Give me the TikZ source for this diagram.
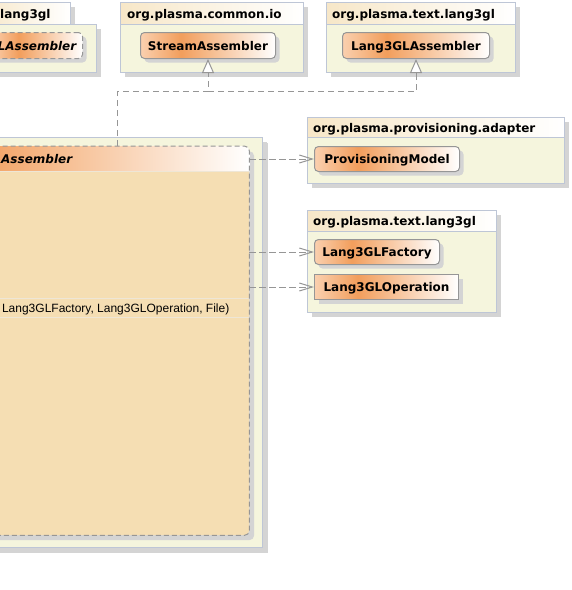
\documentclass[tikz,border=0pt]{standalone}
\usepackage{fontspec}
\newfontfamily\dv{DejaVu Sans}
\newfontfamily\ar{Liberation Sans}
\usetikzlibrary{arrows.meta,shadows}
\definecolor{pkgfill}{RGB}{245,245,221}
\definecolor{pkgline}{RGB}{190,198,214}
\definecolor{shd}{RGB}{212,212,212}
\definecolor{tabL}{RGB}{247,231,200}
\definecolor{clsL}{RGB}{250,208,175}
\definecolor{clsM}{RGB}{242,158,92}
\definecolor{clsline}{RGB}{150,150,150}
\definecolor{wheatc}{RGB}{245,222,179}
\definecolor{sepc}{RGB}{238,230,214}
\definecolor{depc}{RGB}{150,150,150}
\pgfdeclarehorizontalshading{classgrad}{100bp}{color(0bp)=(clsL); color(25bp)=(clsL); color(40bp)=(clsM); color(75bp)=(white); color(100bp)=(white)}
\pgfdeclarehorizontalshading{tabgrad}{100bp}{color(0bp)=(tabL); color(25bp)=(tabL); color(75bp)=(white); color(100bp)=(white)}
\begin{document}
\begin{tikzpicture}[x=1pt,y=-1pt,
  shdw/.style={drop shadow={shadow xshift=4pt,shadow yshift=-4pt,fill=shd,opacity=1}},
  pkgtab/.style={draw=pkgline, line width=1pt, shade, shading=tabgrad, anchor=north west, inner sep=0, shdw},
  pkgbody/.style={draw=pkgline, line width=1pt, fill=pkgfill, anchor=north west, inner sep=0, shdw},
  cls/.style={draw=clsline, line width=1pt, shade, shading=classgrad, anchor=north west, inner sep=0,
    minimum height=26pt, text height=9.5pt, text depth=0pt, font=\dv\bfseries\fontsize{12}{14}\selectfont, shdw},
  rcls/.style={cls, rounded corners=4pt},
  dcls/.style={rcls, dash pattern=on 5pt off 3pt},
  pkglabel/.style={anchor=base west, inner sep=0, font=\dv\bfseries\fontsize{12}{14}\selectfont},
  sepline/.style={draw=sepc, line width=1pt},
  dep/.style={draw=depc, line width=1pt, dash pattern=on 7pt off 3pt},
  depar/.style={dep, -{Straight Barb[length=13pt,width=8pt]}},
  realline/.style={draw=depc, line width=1pt, dash pattern=on 6pt off 4pt, shorten >=13pt},
  realtip/.style={draw=depc, line width=1pt, solid, -{Triangle[length=14pt,width=12pt,fill=white]}}
]
\useasboundingbox (0,0) rectangle (572,590);
\clip (0,0) rectangle (572,590);

% top-left package (cut)
\node[pkgtab, minimum width=90pt, minimum height=22pt] (p1tab) at (-20,2) {};
\node[pkgbody, minimum width=116pt, minimum height=48pt] (p1) at (-20,24) {};
\node[pkglabel] (p1lab) at (0,18.5) {lang3gl};
\node[dcls, minimum width=91pt] (tla) at (-9,32) {\itshape LAssembler};

% org.plasma.common.io
\node[pkgtab, minimum width=183pt, minimum height=22pt] (p2tab) at (120,2) {};
\node[pkgbody, minimum width=183pt, minimum height=48pt] (p2) at (120,24) {};
\node[pkglabel] (p2lab) at (127,18.5) {org.plasma.common.io};
\node[rcls, minimum width=135pt] (sa) at (140,32) {StreamAssembler};

% org.plasma.text.lang3gl (top)
\node[pkgtab, minimum width=189pt, minimum height=22pt] (p3tab) at (326,2) {};
\node[pkgbody, minimum width=189pt, minimum height=48pt] (p3) at (326,24) {};
\node[pkglabel] (p3lab) at (332,18.5) {org.plasma.text.lang3gl};
\node[rcls, minimum width=147pt] (la) at (342,32) {Lang3GLAssembler};

% org.plasma.provisioning.adapter
\node[pkgtab, minimum width=257pt, minimum height=20pt] (p4tab) at (307,117) {};
\node[pkgbody, minimum width=257pt, minimum height=46pt] (p4) at (307,137) {};
\node[pkglabel] (p4lab) at (313,132) {org.plasma.provisioning.adapter};
\node[rcls, minimum width=145pt, minimum height=25pt] (pm) at (314,146) {ProvisioningModel};

% org.plasma.text.lang3gl (middle)
\node[pkgtab, minimum width=189pt, minimum height=21pt] (p5tab) at (307,210) {};
\node[pkgbody, minimum width=189pt, minimum height=81pt] (p5) at (307,231) {};
\node[pkglabel] (p5lab) at (313,225.5) {org.plasma.text.lang3gl};
\node[rcls, minimum width=125pt, minimum height=25pt] (lf) at (314,239) {Lang3GLFactory};
\node[cls, minimum width=144pt, minimum height=25pt] (lo) at (314,274) {Lang3GLOperation};

% main package and class
\node[pkgbody, minimum width=422pt, minimum height=410pt,
  drop shadow={shadow xshift=5pt,shadow yshift=-5pt,fill=shd,opacity=1}] (p0) at (-160,137) {};
\node[fill=wheatc, rounded corners=5pt, anchor=north west, inner sep=0,
  minimum width=399pt, minimum height=389pt,
  drop shadow={shadow xshift=5pt,shadow yshift=-5pt,fill=shd,opacity=1}] (main) at (-150,146) {};
\coordinate (s1) at (0,171);
\coordinate (s2) at (0,298);
\coordinate (s3) at (0,317);
\begin{scope}
  \clip[rounded corners=5pt] (main.north west) rectangle (main.south east);
  \shade[shading=classgrad] (main.north west) rectangle (main.east |- s1);
\end{scope}
\draw[sepline] (main.west |- s1) -- (main.east |- s1);
\draw[sepline] (main.west |- s2) -- (main.east |- s2);
\draw[sepline] (main.west |- s3) -- (main.east |- s3);
\draw[draw=clsline, line width=1pt, dash pattern=on 5pt off 3pt, rounded corners=5pt]
  (main.north west) rectangle (main.south east);
\node[anchor=base west, inner sep=0, font=\dv\bfseries\itshape\fontsize{12}{14}\selectfont] (mainname) at (1,163) {Assembler};
\node[anchor=base east, inner sep=0, font=\ar\fontsize{12}{14}\selectfont] (op) at (229.5,312.5) {Lang3GLFactory, Lang3GLOperation, File)};

% connectors
\coordinate (j1) at (117.5,91.5);
\coordinate (j2) at (sa.south |- j1);
\draw[realline] (j1 |- main.north) -- (j1) -| (sa.south);
\draw[realline] (j2) -| (la.south);
\draw[realtip] ([yshift=-15pt]sa.south) -- (sa.south);
\draw[realtip] ([yshift=-15pt]la.south) -- (la.south);
\draw[depar] (pm.west -| main.east) -- (pm.west);
\draw[depar] (lf.west -| main.east) -- (lf.west);
\draw[depar] (lo.west -| main.east) -- (lo.west);
\end{tikzpicture}
\end{document}
